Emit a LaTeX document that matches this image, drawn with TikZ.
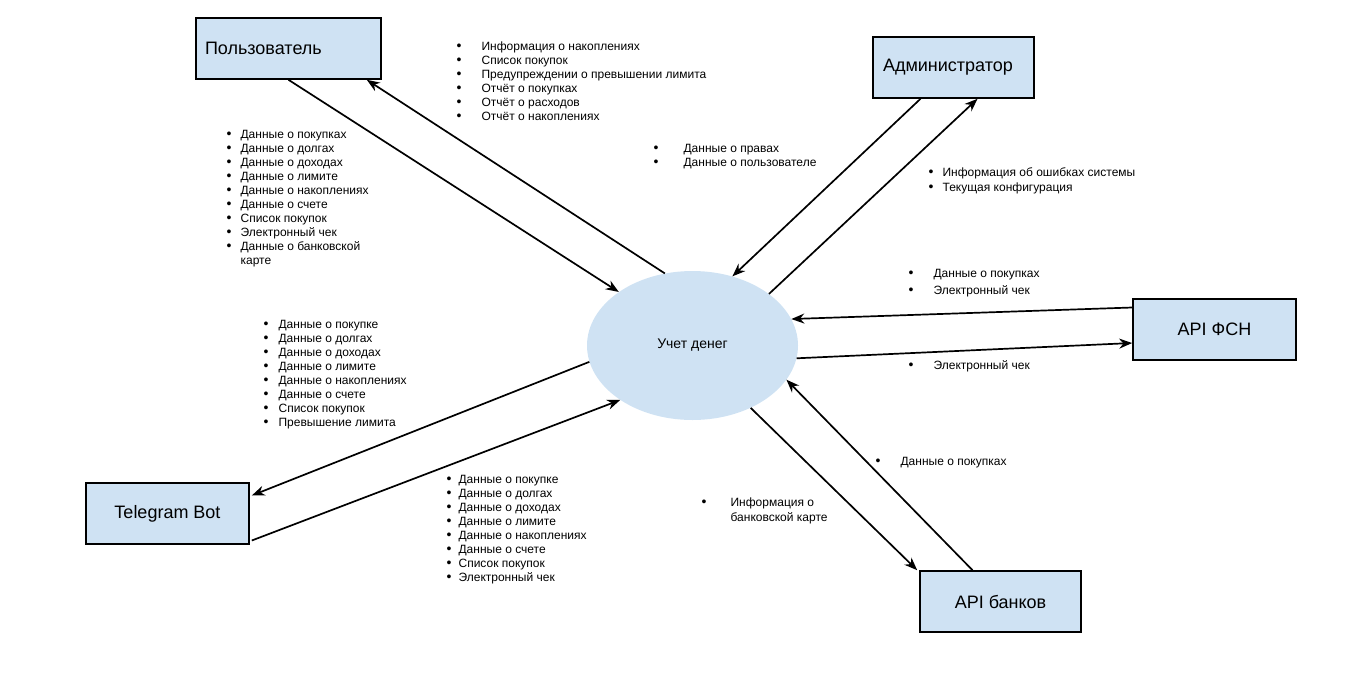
\documentclass[tikz,border=0pt]{standalone}
\usepackage{fontspec}
\setmainfont{Liberation Sans}
\usetikzlibrary{calc}
\usetikzlibrary{arrows.meta}
\usetikzlibrary{shapes.geometric}

\definecolor{boxblue}{HTML}{CFE2F3}
\newcommand{\blt}{{\fontsize{14}{14}\selectfont\textbullet}}
\newcommand{\dlist}[2]{\begin{tabular}[t]{@{}l@{\hspace{#1pt}}l@{}}#2\end{tabular}}

\tikzset{
  entity/.style={draw=black, line width=1.6pt, fill=boxblue, minimum height=61pt, font=\fontsize{18}{21}\selectfont},
  flow/.style={line width=1.7pt, -{Stealth[length=13pt,width=10pt]}},
  items/.style={anchor=base west, inner sep=0pt, font=\fontsize{12}{14}\selectfont}
}

\begin{document}
\begin{tikzpicture}[x=1pt,y=-1pt]
\useasboundingbox (0,0) rectangle (1371,681);

\node[ellipse, fill=boxblue, minimum width=211pt, minimum height=149pt, font=\fontsize{14}{16}\selectfont] (money) at (692.5,345.5) {Учет денег};

\node[entity, minimum width=185pt, inner xsep=9pt, text width=167pt, align=left] (user) at (288.5,48.5) {Пользователь};
\node[entity, minimum width=161pt, inner xsep=10pt, text width=141pt, align=left] (admin) at (953.5,67.5) {Администратор};
\node[entity, minimum width=163pt] (fsn) at (1214.5,329.5) {API ФСН};
\node[entity, minimum width=161pt] (banks) at (1000.5,601.5) {API банков};
\node[entity, minimum width=163pt] (tg) at (167.5,513.5) {Telegram Bot};

% flows
\draw[flow] (user.south) -- (money.144.8);
\draw[flow] (money.111) -- ($(user.south east)+(-15,0)$);
\draw[flow] ($(admin.south)+(-33,0)$) -- (money.60.3);
\draw[flow] (money.34.9) -- ($(admin.south)+(24,0)$);
\draw[flow] ($(fsn.west)+(0,-22)$) -- (money.15);
\draw[flow] (money.-7) -- ($(fsn.west)+(0,13.5)$);
\draw[flow] ($(banks.north)+(-28,0)$) -- (money.-20.2);
\draw[flow] (money.-47.8) -- ($(banks.north west)+(-2,0)$);
\draw[flow] (money.189.5) -- ($(tg.east)+(2,-18)$);
\draw[flow] ($(tg.east)+(2,27)$) -- (money.217.2);

% data lists
\node[items] (toUser) at (456.5,50) {\dlist{20}{\blt & Информация о накоплениях\\ \blt & Список покупок\\ \blt & Предупреждении о превышении лимита\\ \blt & Отчёт о покупках\\ \blt & Отчёт о расходов\\ \blt & Отчёт о накоплениях}};
\node[items] (fromUser) at (226.5,138) {\dlist{9}{\blt & Данные о покупках\\ \blt & Данные о долгах\\ \blt & Данные о доходах\\ \blt & Данные о лимите\\ \blt & Данные о накоплениях\\ \blt & Данные о счете\\ \blt & Список покупок\\ \blt & Электронный чек\\ \blt & Данные о банковской\\ & карте}};
\node[items] (fromAdmin) at (653.5,152) {\dlist{25}{\blt & Данные о правах\\ \blt & Данные о пользователе}};
\node[items] (toAdmin) at (928.5,176) {\dlist{9}{\blt & Информация об ошибках системы\\[1pt] \blt & Текущая конфигурация}};
\node[items] (fromFsn) at (908.5,277) {\dlist{20}{\blt & Данные о покупках\\[3pt] \blt & Электронный чек}};
\node[items] (toFsn) at (908.5,369) {\dlist{20}{\blt & Электронный чек}};
\node[items] (toTg) at (263.5,328) {\dlist{10}{\blt & Данные о покупке\\ \blt & Данные о долгах\\ \blt & Данные о доходах\\ \blt & Данные о лимите\\ \blt & Данные о накоплениях\\ \blt & Данные о счете\\ \blt & Список покупок\\ \blt & Превышение лимита}};
\node[items] (fromTg) at (446.5,483) {\dlist{7}{\blt & Данные о покупке\\ \blt & Данные о долгах\\ \blt & Данные о доходах\\ \blt & Данные о лимите\\ \blt & Данные о накоплениях\\ \blt & Данные о счете\\ \blt & Список покупок\\ \blt & Электронный чек}};
\node[items] (toBanks) at (701.5,506) {\dlist{24}{\blt & Информация о\\[1pt] & банковской карте}};
\node[items] (fromBanks) at (875.5,465) {\dlist{20}{\blt & Данные о покупках}};

\end{tikzpicture}
\end{document}
